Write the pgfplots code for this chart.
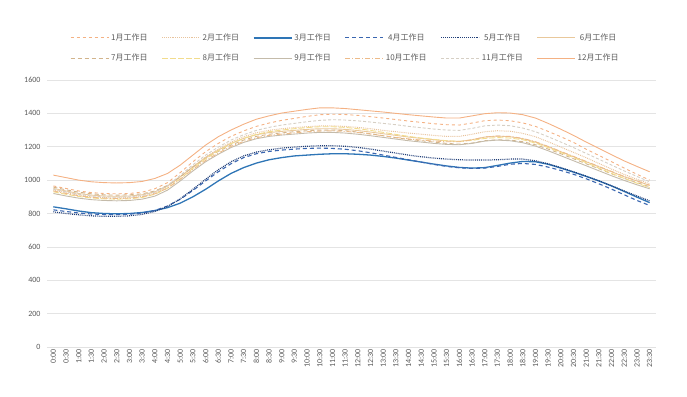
\documentclass[border=0pt]{standalone}
\usepackage{pgfplots}
\pgfplotsset{compat=1.18}
\usepackage{pgfplotstable}
\usepackage{fontspec}
\setmainfont{Carlito}
\newfontfamily\cjk{Noto Sans CJK SC}

\definecolor{txt}{HTML}{595959}
\definecolor{grd}{HTML}{E4E4E4}
\definecolor{c1}{HTML}{F4B183}
\definecolor{c2}{HTML}{E8C39C}
\definecolor{c3}{HTML}{2E75B6}
\definecolor{c4}{HTML}{3A66B0}
\definecolor{c5}{HTML}{203E78}
\definecolor{c6}{HTML}{E9C89B}
\definecolor{c7}{HTML}{D2B48C}
\definecolor{c8}{HTML}{F2DC8C}
\definecolor{c9}{HTML}{C4BBAA}
\definecolor{c10}{HTML}{EDBB8A}
\definecolor{c11}{HTML}{D6CFC4}
\definecolor{c12}{HTML}{F4B183}

% half-hourly load on working days, one column per month
\pgfplotstableread{
t m1 m2 m3 m4 m5 m6 m7 m8 m9 m10 m11 m12
0 965 940 840 822 810 950 958 930 920 935 945 1030
1 950 925 828 812 800 935 942 915 905 920 930 1015
2 935 910 815 803 792 920 928 902 892 906 915 1000
3 925 900 805 797 786 910 918 893 883 897 905 990
4 920 895 800 794 783 905 912 888 878 892 900 985
5 918 893 798 793 783 903 910 886 876 890 898 983
6 920 895 800 796 786 905 912 888 878 892 900 985
7 928 902 806 803 795 912 918 896 886 900 908 992
8 948 922 818 818 812 930 935 915 904 918 928 1010
9 985 960 835 845 842 965 968 952 940 952 968 1040
10 1045 1018 862 885 888 1020 1020 1008 995 1005 1028 1090
11 1110 1080 900 938 945 1080 1078 1070 1055 1064 1092 1150
12 1170 1138 945 995 1005 1135 1130 1128 1110 1118 1150 1210
13 1220 1185 995 1050 1062 1180 1172 1175 1155 1162 1198 1260
14 1262 1228 1040 1098 1110 1220 1210 1218 1195 1202 1240 1300
15 1295 1260 1075 1135 1145 1250 1240 1250 1226 1232 1272 1335
16 1322 1284 1102 1158 1168 1272 1262 1274 1248 1254 1298 1365
17 1342 1298 1122 1172 1182 1285 1275 1290 1262 1268 1316 1385
18 1358 1308 1135 1180 1192 1292 1283 1300 1270 1276 1330 1402
19 1370 1315 1145 1186 1198 1298 1290 1308 1276 1283 1340 1413
20 1382 1320 1150 1190 1203 1304 1296 1315 1282 1290 1350 1424
21 1392 1325 1155 1192 1206 1308 1300 1320 1286 1294 1358 1433
22 1395 1325 1158 1190 1206 1308 1300 1320 1286 1295 1362 1433
23 1393 1322 1158 1185 1203 1304 1296 1316 1282 1292 1360 1429
24 1388 1316 1155 1176 1196 1297 1288 1308 1275 1285 1355 1422
25 1380 1308 1150 1164 1186 1288 1278 1298 1266 1276 1348 1415
26 1372 1298 1142 1150 1174 1278 1266 1286 1256 1266 1340 1408
27 1363 1290 1132 1136 1162 1268 1254 1274 1246 1256 1332 1400
28 1354 1282 1120 1122 1150 1258 1244 1262 1236 1247 1322 1392
29 1346 1275 1108 1108 1140 1250 1236 1252 1228 1240 1314 1385
30 1338 1268 1096 1094 1132 1242 1228 1244 1220 1234 1306 1378
31 1332 1262 1085 1082 1126 1235 1220 1236 1214 1230 1300 1372
32 1330 1262 1076 1074 1122 1232 1216 1232 1212 1230 1298 1372
33 1342 1275 1072 1070 1120 1242 1222 1238 1220 1242 1310 1385
34 1356 1290 1075 1072 1120 1258 1236 1250 1234 1258 1325 1398
35 1360 1296 1088 1082 1122 1264 1242 1255 1240 1264 1330 1404
36 1356 1293 1102 1095 1126 1260 1240 1252 1236 1262 1326 1402
37 1343 1280 1112 1100 1126 1248 1230 1242 1224 1250 1312 1392
38 1322 1260 1110 1094 1116 1228 1212 1222 1204 1230 1290 1372
39 1292 1230 1095 1078 1098 1200 1186 1195 1176 1202 1260 1340
40 1260 1198 1072 1058 1075 1170 1158 1165 1146 1172 1228 1305
41 1226 1166 1048 1035 1050 1140 1128 1135 1116 1142 1195 1268
42 1185 1134 1022 1008 1024 1110 1098 1104 1086 1112 1160 1228
43 1148 1100 995 978 996 1080 1068 1072 1056 1082 1125 1190
44 1110 1066 965 946 966 1050 1038 1040 1026 1052 1090 1152
45 1072 1034 932 912 935 1020 1010 1010 998 1022 1055 1115
46 1035 1005 898 878 905 995 985 982 972 995 1022 1082
47 1000 978 865 848 876 968 960 955 948 970 990 1050
}\loadtable

\begin{document}
\begin{tikzpicture}
\path[use as bounding box] (0,0) rectangle (687pt,396pt);
\begin{axis}[
  at={(47pt,49pt)}, anchor=south west,
  scale only axis, width=609pt, height=267pt,
  xmin=-0.5, xmax=47.5, ymin=0, ymax=1600,
  ytick={0,200,...,1600},
  xtick={0,...,47},
  xticklabels={0:00,0:30,1:00,1:30,2:00,2:30,3:00,3:30,4:00,4:30,5:00,5:30,6:00,6:30,7:00,7:30,8:00,8:30,9:00,9:30,10:00,10:30,11:00,11:30,12:00,12:30,13:00,13:30,14:00,14:30,15:00,15:30,16:00,16:30,17:00,17:30,18:00,18:30,19:00,19:30,20:00,20:30,21:00,21:30,22:00,22:30,23:00,23:30},
  xticklabel style={rotate=90, anchor=east, font=\fontsize{8}{9}\selectfont, text=txt, inner sep=2pt},
  yticklabel style={font=\fontsize{8}{9}\selectfont, text=txt, xshift=-3pt},
  /pgf/number format/assume math mode=true,
  /pgf/number format/1000 sep={},
  major tick length=0pt,
  axis line style={draw=none},
  axis x line*=bottom,
  ymajorgrids, grid style={grd, line width=0.6pt},
  extra y ticks={0}, extra y tick labels={},
  extra y tick style={grid style={draw=grd!80!black!40, line width=0.7pt}},
  legend columns=6,
  legend style={at={(axis description cs:0.49,1.12)}, anchor=center, draw=none, fill=none,
    font=\cjk\fontsize{8}{9}\selectfont, text=txt,
    /tikz/every even column/.append style={column sep=12pt}, row sep=8pt},
  legend image code/.code={\draw[#1] (0pt,0pt) -- (38pt,0pt);},
  every axis plot/.append style={line width=0.9pt},
]
\addplot[c1, dashed] table[x=t, y=m1] {\loadtable};
\addlegendentry{1月工作日}
\addplot[c2, densely dotted, line width=1pt] table[x=t, y=m2] {\loadtable};
\addlegendentry{2月工作日}
\addplot[c3, line width=1.3pt] table[x=t, y=m3] {\loadtable};
\addlegendentry{3月工作日}
\addplot[c4, dash pattern=on 4pt off 3pt, line width=1.1pt] table[x=t, y=m4] {\loadtable};
\addlegendentry{4月工作日}
\addplot[c5, densely dotted, line width=1.2pt] table[x=t, y=m5] {\loadtable};
\addlegendentry{5月工作日}
\addplot[c6] table[x=t, y=m6] {\loadtable};
\addlegendentry{6月工作日}
\addplot[c7, dash pattern=on 4pt off 3pt] table[x=t, y=m7] {\loadtable};
\addlegendentry{7月工作日}
\addplot[c8, dash pattern=on 6pt off 2pt] table[x=t, y=m8] {\loadtable};
\addlegendentry{8月工作日}
\addplot[c9] table[x=t, y=m9] {\loadtable};
\addlegendentry{9月工作日}
\addplot[c10, dash pattern=on 5pt off 2pt on 1pt off 2pt] table[x=t, y=m10] {\loadtable};
\addlegendentry{10月工作日}
\addplot[c11, densely dashed] table[x=t, y=m11] {\loadtable};
\addlegendentry{11月工作日}
\addplot[c12] table[x=t, y=m12] {\loadtable};
\addlegendentry{12月工作日}
\end{axis}
\end{tikzpicture}
\end{document}
